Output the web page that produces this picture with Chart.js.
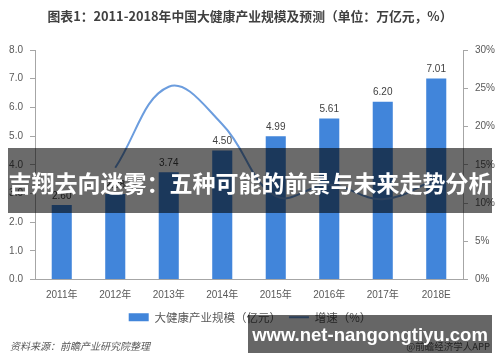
<!DOCTYPE html>
<html>
<head>
<meta charset="utf-8">
<script src="https://cdn.jsdelivr.net/npm/chart.js@4/dist/chart.umd.min.js"></script>
<style>
  html, body { margin: 0; padding: 0; background: #fff; }
  #wrap { position: relative; width: 500px; height: 362px; overflow: hidden; background: #fff; }
  #c { position: absolute; left: 0; top: 0; }
  .abs { position: absolute; white-space: nowrap; }
  #title { left: 0; top: 6px; width: 500px; text-align: center; font: bold 12.8px "Noto Sans CJK SC", sans-serif; color: #404040; line-height: 20px; }
  #src { left: 10px; top: 338px; font: italic 10px "Noto Sans CJK SC", sans-serif; color: #595959; line-height: 16px; }
  #app { right: 10px; top: 338px; font: 9.5px "Noto Sans CJK SC", sans-serif; color: #595959; line-height: 16px; }
  #banner1 { left: 8px; top: 148px; width: 484px; height: 65px; background: rgba(0,0,0,0.58); color: #fff; font: bold 23px "Noto Sans CJK SC", sans-serif; line-height: 69px; text-align: center; }
  #banner2 { left: 248px; top: 315px; width: 244px; height: 38px; background: rgba(0,0,0,0.6); color: #fff; font: bold 18.5px "Liberation Sans", "DejaVu Sans", sans-serif; line-height: 40px; text-align: center; }
</style>
</head>
<body>
<div id="wrap">
  <canvas id="c" width="500" height="362"></canvas>
  <div id="title" class="abs">图表1：2011-2018年中国大健康产业规模及预测（单位：万亿元，%）</div>
  <div id="src" class="abs">资料来源：前瞻产业研究院整理</div>
  <div id="app" class="abs">@前瞻经济学人APP</div>
  <div id="banner1" class="abs">吉翔去向迷雾：五种可能的前景与未来走势分析</div>
  <div id="banner2" class="abs">www.net-nangongtiyu.com</div>
</div>
<script>
const categories = ["2011年", "2012年", "2013年", "2014年", "2015年", "2016年", "2017年", "2018E"];
const scaleValues = [2.60, 2.98, 3.74, 4.50, 4.99, 5.61, 6.20, 7.01];
const growthRates = [null, 14.6, 25.2, 20.3, 10.9, 12.4, 10.5, 13.1];
const leftTicks = [0, 1, 2, 3, 4, 5, 6, 7, 8];
const rightTicks = [0, 5, 10, 15, 20, 25, 30];
const seriesNames = ["大健康产业规模（亿元）", "增速（%）"];

const barColor = "#4185da";
const lineColor = "#6c9dde";
const axisColor = "#a6a6a6";
const tickColor = "#595959";
const numFont = "'Liberation Sans', 'Noto Sans CJK SC', sans-serif";

const valueLabels = {
  id: "valueLabels",
  afterDatasetsDraw(chart) {
    const ctx = chart.ctx;
    const meta = chart.getDatasetMeta(0);
    ctx.save();
    ctx.fillStyle = "#404040";
    ctx.font = "10px " + numFont;
    ctx.textAlign = "center";
    ctx.textBaseline = "bottom";
    meta.data.forEach((bar, i) => {
      ctx.fillText(scaleValues[i].toFixed(2), bar.x, bar.y - 4);
    });
    ctx.restore();
  }
};

new Chart(document.getElementById("c"), {
  type: "bar",
  data: {
    labels: categories,
    datasets: [
      {
        type: "bar",
        label: seriesNames[0],
        data: scaleValues,
        backgroundColor: barColor,
        borderWidth: 0,
        barPercentage: 0.75,
        categoryPercentage: 0.5,
        yAxisID: "y",
        order: 1,
        pointStyle: "rect"
      },
      {
        type: "line",
        label: seriesNames[1],
        data: growthRates,
        borderColor: lineColor,
        backgroundColor: lineColor,
        borderWidth: 2,
        pointRadius: 0,
        pointHoverRadius: 0,
        pointStyle: "line",
        tension: 0.4,
        fill: false,
        yAxisID: "y1",
        order: 0
      }
    ]
  },
  options: {
    responsive: false,
    animation: false,
    devicePixelRatio: 1,
    layout: { padding: { top: 50, left: 0, right: 0, bottom: 29 } },
    plugins: {
      title: { display: false },
      tooltip: { enabled: false },
      legend: {
        display: true,
        position: "bottom",
        labels: {
          usePointStyle: true,
          pointStyleWidth: 20,
          boxHeight: 8,
          padding: 8,
          color: tickColor,
          font: { size: 11.5, family: "'Noto Sans CJK SC', sans-serif" },
          sort: (a, b) => a.datasetIndex - b.datasetIndex
        }
      }
    },
    scales: {
      x: {
        offset: true,
        grid: { display: true, drawOnChartArea: false, drawTicks: false },
        border: { display: true, color: axisColor, width: 1 },
        ticks: { color: tickColor, font: { size: 10, family: numFont }, padding: 10, maxRotation: 0, autoSkip: false },
        afterFit: (s) => { s.height = 24; }
      },
      y: {
        position: "left",
        min: 0, max: 8,
        afterBuildTicks: (s) => { s.ticks = leftTicks.map(v => ({ value: v })); },
        grid: { display: true, drawOnChartArea: false, drawTicks: true, tickLength: 5, color: axisColor },
        border: { display: true, color: axisColor, width: 1 },
        ticks: { color: tickColor, font: { size: 10, family: numFont }, padding: 7, callback: (v) => Number(v).toFixed(1) },
        afterFit: (s) => { s.width = 35; }
      },
      y1: {
        position: "right",
        min: 0, max: 30,
        afterBuildTicks: (s) => { s.ticks = rightTicks.map(v => ({ value: v })); },
        grid: { display: true, drawOnChartArea: false, drawTicks: true, tickLength: 5, color: axisColor },
        border: { display: true, color: axisColor, width: 1 },
        ticks: { color: tickColor, font: { size: 10, family: numFont }, padding: 7, callback: (v) => v + "%" },
        afterFit: (s) => { s.width = 37; }
      }
    }
  },
  plugins: [valueLabels]
});
</script>
</body>
</html>
